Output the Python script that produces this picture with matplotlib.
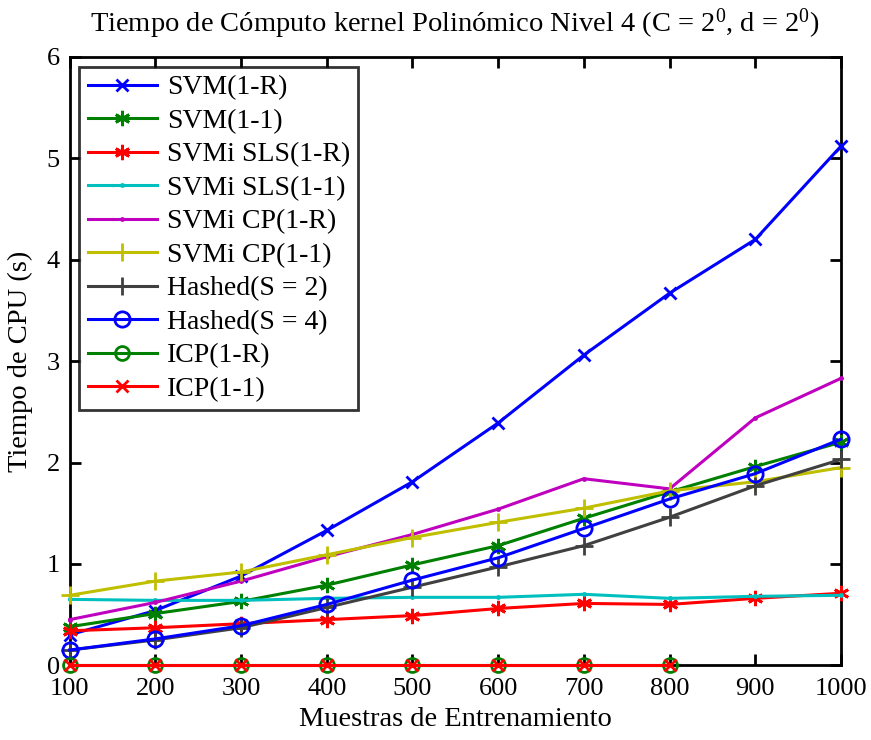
import matplotlib.pyplot as plt
from matplotlib.ticker import MultipleLocator

plt.rcParams['font.family'] = ['Liberation Serif', 'DejaVu Serif']
plt.rcParams['mathtext.fontset'] = 'stix'

muestras = [100, 200, 300, 400, 500, 600, 700, 800, 900, 1000]
muestras_icp = [100, 200, 300, 400, 500, 600, 700, 800]

svm_1r = [0.30, 0.54, 0.88, 1.33, 1.81, 2.39, 3.06, 3.67, 4.20, 5.12]
svm_11 = [0.38, 0.51, 0.63, 0.79, 0.99, 1.18, 1.45, 1.71, 1.96, 2.20]
sls_1r = [0.34, 0.37, 0.41, 0.45, 0.49, 0.56, 0.61, 0.60, 0.66, 0.71]
sls_11 = [0.65, 0.64, 0.64, 0.66, 0.67, 0.67, 0.70, 0.66, 0.68, 0.69]
cp_1r = [0.45, 0.62, 0.83, 1.07, 1.29, 1.54, 1.84, 1.74, 2.44, 2.83]
cp_11 = [0.69, 0.83, 0.92, 1.09, 1.26, 1.41, 1.55, 1.72, 1.81, 1.95]
hashed_s2 = [0.15, 0.25, 0.37, 0.57, 0.77, 0.97, 1.18, 1.46, 1.77, 2.03]
hashed_s4 = [0.15, 0.26, 0.39, 0.60, 0.84, 1.06, 1.35, 1.64, 1.89, 2.23]
icp_1r = [0, 0, 0, 0, 0, 0, 0, 0]
icp_11 = [0, 0, 0, 0, 0, 0, 0, 0]

etiquetas = ['SVM(1-R)', 'SVM(1-1)', 'SVMi SLS(1-R)', 'SVMi SLS(1-1)',
             'SVMi CP(1-R)', 'SVMi CP(1-1)', 'Hashed(S = 2)', 'Hashed(S = 4)',
             'ICP(1-R)', 'ICP(1-1)']

azul = (0, 0, 1)
verde = (0, 0.5, 0)
rojo = (1, 0, 0)
cian = (0, 0.75, 0.75)
magenta = (0.75, 0, 0.75)
amarillo = (0.75, 0.75, 0)
gris = (0.25, 0.25, 0.25)
asterisco = (6, 2, 0)

fig = plt.figure(figsize=(8.71, 7.4), dpi=100)
ax = fig.add_axes([0.080, 0.101, 0.8855, 0.822])

lw = 2.2
series = [
    (muestras, svm_1r, azul, 'x', 8, 'full'),
    (muestras, svm_11, verde, asterisco, 11, 'full'),
    (muestras, sls_1r, rojo, asterisco, 11, 'full'),
    (muestras, sls_11, cian, '.', 3, 'full'),
    (muestras, cp_1r, magenta, '.', 3, 'full'),
    (muestras, cp_11, amarillo, '+', 13, 'full'),
    (muestras, hashed_s2, gris, '+', 13, 'full'),
    (muestras, hashed_s4, azul, 'o', 11, 'none'),
    (muestras_icp, icp_1r, verde, 'o', 10, 'none'),
    (muestras_icp, icp_11, rojo, 'x', 8, 'full'),
]
for (x, y, c, m, ms, fs), lab in zip(series, etiquetas):
    ax.plot(x, y, color=c, marker=m, markersize=ms, fillstyle=fs,
            markeredgewidth=2.0, linewidth=lw, label=lab, clip_on=False)

ax.set_xlim(100, 1000)
ax.set_ylim(0, 6)
ax.xaxis.set_major_locator(MultipleLocator(100))
ax.yaxis.set_major_locator(MultipleLocator(1))
ax.tick_params(direction='in', top=True, right=True, length=8, width=2,
               labelsize=19)
ax.tick_params(axis='x', pad=9)
ax.tick_params(axis='y', pad=7)
for s in ax.spines.values():
    s.set_linewidth(2)
    s.set_zorder(0.5)

ax.set_xlabel('Muestras de Entrenamiento', fontsize=20.5, labelpad=5)
ax.set_ylabel('Tiempo de CPU (s)', fontsize=20.5, labelpad=10)
ax.set_title(r'Tiempo de Cómputo kernel Polinómico Nivel 4 (C = $\mathregular{2^0}$, d = $\mathregular{2^0}$)',
             fontsize=20.5, pad=18)

leg = ax.legend(loc='upper left', fontsize=20, frameon=True, fancybox=False,
                edgecolor='black', handlelength=2.5, labelspacing=0.29,
                borderaxespad=0.35, handletextpad=0.35, borderpad=0.3)
leg.get_frame().set_linewidth(2)

fig.savefig('out.png', dpi=100)
